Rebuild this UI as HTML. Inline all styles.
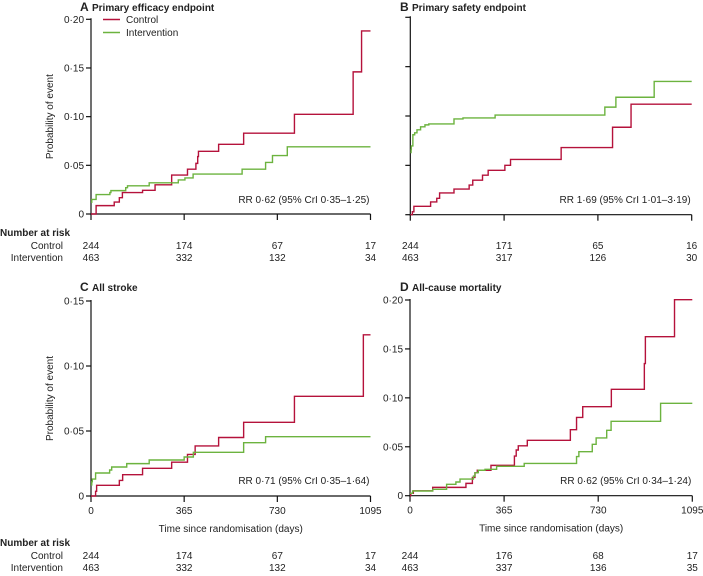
<!DOCTYPE html>
<html><head><meta charset="utf-8"><style>
body{margin:0;background:#fff;width:703px;height:571px;overflow:hidden}
svg text{font-family:"Liberation Sans",sans-serif;fill:#222}
</style></head><body>
<svg id="c" width="703" height="571" xmlns="http://www.w3.org/2000/svg"></svg>
<script>
// Panel A - Primary efficacy endpoint
const aCtrlDays=[0,20,91,111,123,202,251,316,378,411,418,421,500,598,797,1027];
const aCtrlVals=[0,0.0086,0.0123,0.0168,0.022,0.0243,0.030,0.040,0.046,0.052,0.059,0.0644,0.0716,0.083,0.1024,0.146];
const aIntDays=[0,3,20,74,78,136,143,228,342,368,400,592,684,711,769];
const aIntVals=[0.012,0.015,0.020,0.022,0.024,0.027,0.029,0.032,0.035,0.037,0.041,0.046,0.053,0.060,0.069];
const aCtrlLastDay=1060, aCtrlLastVal=0.188;
// Panel B - Primary safety endpoint
const bCtrlDays=[0,8,14,79,103,114,170,229,243,281,303,368,390,587,787,859];
const bCtrlVals=[0,0.003,0.0085,0.0129,0.0166,0.022,0.026,0.030,0.035,0.040,0.045,0.050,0.056,0.068,0.0886,0.112];
const bIntDays=[0,3,4,10,17,26,40,57,72,170,205,330,757,800,949];
const bIntVals=[0.063,0.066,0.0697,0.081,0.083,0.086,0.089,0.091,0.092,0.097,0.098,0.101,0.109,0.119,0.135];
// Panel C - All stroke
const cCtrlDays=[0,18,22,111,124,202,316,378,408,500,598,797,1067];
const cCtrlVals=[0,0.0036,0.0082,0.012,0.0164,0.0213,0.026,0.032,0.0385,0.045,0.0567,0.0767,0.124];
const cIntDays=[0,3,5,18,73,81,140,228,365,401,598,684];
const cIntVals=[0.0085,0.011,0.013,0.0177,0.020,0.0223,0.0249,0.0277,0.030,0.0336,0.041,0.0456];
// Panel D - All-cause mortality
const dCtrlDays=[0,3,13,88,217,242,252,261,314,405,412,420,455,622,646,670,781,909,913,1026];
const dCtrlVals=[0,0.0024,0.005,0.0085,0.0126,0.0187,0.0235,0.026,0.031,0.0405,0.0467,0.051,0.0566,0.0675,0.080,0.091,0.1087,0.135,0.1625,0.2003];
const dIntDays=[0,10,88,142,178,194,246,252,265,291,336,443,646,655,707,722,763,780,972];
const dIntVals=[0.0024,0.0048,0.0065,0.0116,0.014,0.017,0.020,0.0235,0.026,0.027,0.030,0.033,0.040,0.045,0.0525,0.059,0.0668,0.076,0.0944];
const xTicks=[0,365,730,1095];
const riskA=[[244,174,67,17],[463,332,132,34]];
const riskB=[[244,171,65,16],[463,317,126,30]];
const riskC=[[244,174,67,17],[463,332,132,34]];
const riskD=[[244,176,68,17],[463,337,136,35]];

const NS="http://www.w3.org/2000/svg";
const svg=document.getElementById('c');
const RED="#b5123b",GREEN="#6cb33f";
function mk(tag,attrs,parent){const e=document.createElementNS(NS,tag);for(const k in attrs)e.setAttribute(k,attrs[k]);(parent||svg).appendChild(e);return e;}
function txt(x,y,s,opt,name){const t=mk('text',Object.assign({x:x,y:y,'font-size':10},opt||{}));t.textContent=s;


return t;}
function panel(p){
  const g=mk('g',{});
  
  
  const sx=d=>p.x0+(p.x1-p.x0)*d/1095;
  const sy=v=>p.y0-(p.y0-p.yTop)*v/p.yMax;
  const ya=mk('line',{x1:p.x0,y1:p.yTop-1,x2:p.x0,y2:p.y0+1,stroke:'#111','stroke-width':1.2},g);
  
  
  const xa=mk('line',{x1:p.x0,y1:p.y0,x2:p.x1,y2:p.y0,stroke:'#111','stroke-width':1.2},g);
  
  
  for(let i=0;i<=p.yMax/0.05+0.001;i++){
    const v=i*0.05,y=sy(v);
    mk('line',{x1:p.x0-5,y1:y,x2:p.x0,y2:y,stroke:'#111','stroke-width':1.2},g);
    if(p.yLabels){const lbl=i===0?'0':'0·'+String(Math.round(v*100)).padStart(2,'0');
      txt(p.x0-7,y+3.5,lbl,{'text-anchor':'end'},'y-tick-label');}
  }
  xTicks.forEach((d,i)=>{const x=sx(d);mk('line',{x1:x,y1:p.y0,x2:x,y2:p.y0+6,stroke:'#111','stroke-width':1.2},g);
    if(p.xLabels)txt(x,p.y0+18,String(d),{'text-anchor':'middle'},'x-tick-label');
    txt(x,p.riskY+13,String(p.risk[0][i]),{'text-anchor':'middle'},'risk-control');
    txt(x,p.riskY+25,String(p.risk[1][i]),{'text-anchor':'middle'},'risk-intervention');
  });
  function step(days,vals,endDay,color,name){
    let d='M'+sx(days[0])+','+sy(vals[0]);
    for(let i=1;i<days.length;i++){d+=' H'+sx(days[i])+' V'+sy(vals[i]);}
    d+=' H'+sx(endDay);
    const pth=mk('path',{d:d,fill:'none',stroke:color,'stroke-width':1.4},g);
    
    
  }
  step(p.cD,p.cV,1095,RED,'control-curve-'+p.id);
  step(p.iD,p.iV,1095,GREEN,'intervention-curve-'+p.id);
  txt(p.titleX-12,p.titleY,p.id,{'font-size':12,'font-weight':'bold'},'panel-letter');
  txt(p.titleX,p.titleY,p.title,{'font-size':10,'font-weight':'bold'},'panel-title');
  txt(p.x1-1,p.rrY,p.rr,{'text-anchor':'end'},'rr-annotation');
  if(p.yTitle){txt(0,0,'Probability of event',{'text-anchor':'middle',transform:'translate('+(p.x0-38)+','+((p.y0+p.yTop)/2)+') rotate(-90)'},'y-axis-title');}
  if(p.xLabels)txt((p.x0+p.x1)/2,p.y0+36,'Time since randomisation (days)',{'text-anchor':'middle'},'x-axis-title');
  if(p.riskHead){
    txt(0,p.riskY,'Number at risk',{'font-weight':'bold'},'risk-table-title');
    txt(63,p.riskY+13,'Control',{'text-anchor':'end'},'risk-row-control');
    txt(63,p.riskY+25,'Intervention',{'text-anchor':'end'},'risk-row-intervention');
  }
}
panel({id:'A',title:'Primary efficacy endpoint',titleX:92,titleY:11,x0:91,x1:370.5,y0:214,yTop:19.3,yMax:0.20,yLabels:true,yTitle:true,xLabels:false,
 cD:aCtrlDays.concat([aCtrlLastDay]),cV:aCtrlVals.concat([aCtrlLastVal]),iD:aIntDays,iV:aIntVals,rr:'RR 0·62 (95% CrI 0·35–1·25)',rrY:203,risk:riskA,riskY:236,riskHead:true});
panel({id:'B',title:'Primary safety endpoint',titleX:412,titleY:11,x0:410.3,x1:691.7,y0:214.7,yTop:17.3,yMax:0.20,yLabels:false,yTitle:false,xLabels:false,
 cD:bCtrlDays,cV:bCtrlVals,iD:bIntDays,iV:bIntVals,rr:'RR 1·69 (95% CrI 1·01–3·19)',rrY:203,risk:riskB,riskY:236,riskHead:false});
panel({id:'C',title:'All stroke',titleX:92,titleY:291,x0:91,x1:370.5,y0:496,yTop:301,yMax:0.15,yLabels:true,yTitle:true,xLabels:true,
 cD:cCtrlDays,cV:cCtrlVals,iD:cIntDays,iV:cIntVals,rr:'RR 0·71 (95% CrI 0·35–1·64)',rrY:484,risk:riskC,riskY:546,riskHead:true});
panel({id:'D',title:'All-cause mortality',titleX:412,titleY:291,x0:410,x1:692.3,y0:495.7,yTop:300,yMax:0.20,yLabels:true,yTitle:false,xLabels:true,
 cD:dCtrlDays,cV:dCtrlVals,iD:dIntDays,iV:dIntVals,rr:'RR 0·62 (95% CrI 0·34–1·24)',rrY:484,risk:riskD,riskY:546,riskHead:false});
const l1=mk('line',{x1:103,y1:19.5,x2:120,y2:19.5,stroke:RED,'stroke-width':1.4});


txt(126,23,'Control',{},'legend-control');
const l2=mk('line',{x1:103,y1:32.5,x2:120,y2:32.5,stroke:GREEN,'stroke-width':1.4});


txt(126,36,'Intervention',{},'legend-intervention');
</script>
</body></html>
